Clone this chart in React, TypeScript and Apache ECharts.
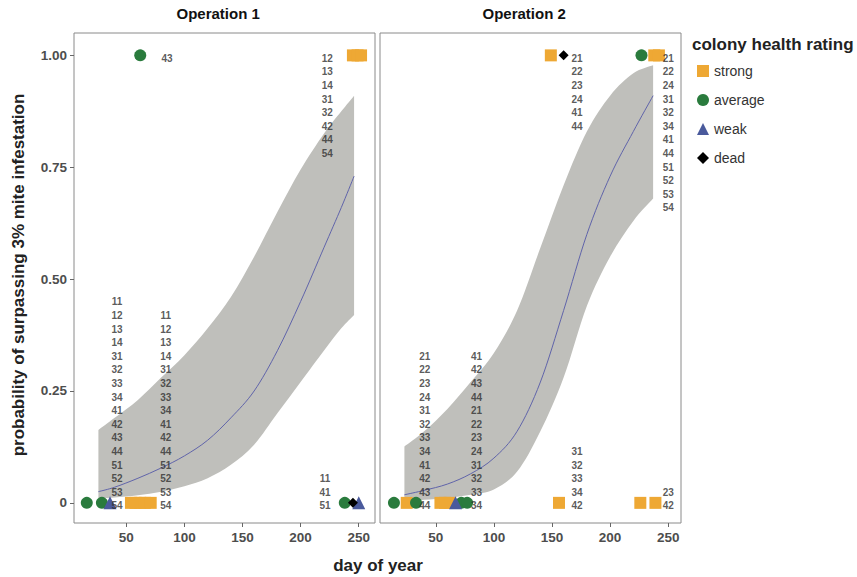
import React, { useEffect, useRef } from "react";
import * as echarts from "echarts";

const PANELS = ["Operation 1", "Operation 2"];
const X_TICKS = [50, 100, 150, 200, 250];
const Y_TICKS = [0, 0.25, 0.5, 0.75, 1];
const Y_TICK_LABELS = ["0", "0.25", "0.50", "0.75", "1.00"];
const RATINGS = ["strong", "average", "weak", "dead"];

// fitted curve + confidence band, Operation 1
const op1Days = [26, 40, 60, 80, 100, 120, 140, 160, 180, 200, 220, 235, 246];
const op1Fit = [0.025, 0.035, 0.055, 0.078, 0.105, 0.14, 0.19, 0.25, 0.34, 0.45, 0.57, 0.66, 0.73];
const op1Upper = [0.163, 0.19, 0.23, 0.28, 0.33, 0.39, 0.46, 0.55, 0.65, 0.745, 0.825, 0.875, 0.91];
const op1Lower = [0.01, 0.012, 0.017, 0.025, 0.037, 0.055, 0.085, 0.13, 0.2, 0.27, 0.34, 0.39, 0.42];

// fitted curve + confidence band, Operation 2
const op2Days = [23, 40, 60, 80, 100, 120, 140, 160, 180, 200, 220, 237];
const op2Fit = [0.018, 0.028, 0.042, 0.065, 0.1, 0.16, 0.27, 0.43, 0.6, 0.73, 0.83, 0.91];
const op2Upper = [0.126, 0.16, 0.21, 0.27, 0.335, 0.43, 0.57, 0.71, 0.83, 0.91, 0.96, 0.978];
const op2Lower = [0.004, 0.007, 0.011, 0.018, 0.03, 0.07, 0.16, 0.28, 0.44, 0.55, 0.63, 0.68];

// observations [day, outcome]
const op1Strong = [[54, 0], [58, 0], [62, 0], [66, 0], [71, 0], [245, 1], [249, 1], [252, 1]];
const op1Average = [[16, 0], [29, 0], [238, 0], [62, 1]];
const op1Weak = [[36, 0], [250, 0]];
const op1Dead = [[245, 0]];

const op2Strong = [[25, 0], [54, 0], [58, 0], [62, 0], [156, 0], [226, 0], [239, 0], [149, 1], [238, 1], [242, 1]];
const op2Average = [[14, 0], [33, 0], [72, 0], [77, 0], [227, 1]];
const op2Weak = [[67, 0]];
const op2Dead = [[160, 1]];

// colony id labels: [label day, outcome, ids listed top to bottom]
const op1Labels: [number, number, string[]][] = [
  [42, 0, ["11", "12", "13", "14", "31", "32", "33", "34", "41", "42", "43", "44", "51", "52", "53", "54"]],
  [84, 0, ["11", "12", "13", "14", "31", "32", "33", "34", "41", "42", "44", "51", "52", "53", "54"]],
  [221, 0, ["11", "41", "51"]],
  [85, 1, ["43"]],
  [223, 1, ["12", "13", "14", "31", "32", "42", "44", "54"]],
];
const op2Labels: [number, number, string[]][] = [
  [40.5, 0, ["21", "22", "23", "24", "31", "32", "33", "34", "41", "42", "43", "44"]],
  [85, 0, ["41", "42", "43", "44", "21", "22", "23", "24", "31", "32", "33", "34"]],
  [171.5, 0, ["31", "32", "33", "34", "42"]],
  [250, 0, ["23", "42"]],
  [171.5, 1, ["21", "22", "23", "24", "41", "44"]],
  [250, 1, ["21", "22", "24", "31", "32", "34", "41", "44", "51", "52", "53", "54"]],
];

const COLORS: Record<string, string> = {
  strong: "#eea834",
  average: "#2a7b3d",
  weak: "#4a5a9c",
  dead: "#000000",
};
const SYMBOLS: Record<string, string> = {
  strong: "rect",
  average: "circle",
  weak: "triangle",
  dead: "diamond",
};
const SIZES: Record<string, number> = { strong: 12, average: 12, weak: 13, dead: 10 };

const FONT = "'Liberation Sans', Arial, sans-serif";

// smooth path (Catmull-Rom as cubic Beziers) through screen points
function curveThrough(pts: number[][], moveFirst: boolean): string {
  let d = (moveFirst ? "M" : "L") + pts[0][0].toFixed(2) + " " + pts[0][1].toFixed(2);
  for (let i = 0; i < pts.length - 1; i++) {
    const p0 = pts[Math.max(0, i - 1)];
    const p1 = pts[i];
    const p2 = pts[i + 1];
    const p3 = pts[Math.min(pts.length - 1, i + 2)];
    const c1x = p1[0] + (p2[0] - p0[0]) / 6;
    const c1y = p1[1] + (p2[1] - p0[1]) / 6;
    const c2x = p2[0] - (p3[0] - p1[0]) / 6;
    const c2y = p2[1] - (p3[1] - p1[1]) / 6;
    d += ` C${c1x.toFixed(2)} ${c1y.toFixed(2)} ${c2x.toFixed(2)} ${c2y.toFixed(2)} ${p2[0].toFixed(2)} ${p2[1].toFixed(2)}`;
  }
  return d;
}

export default function App() {
  const ref = useRef<HTMLDivElement>(null);
  useEffect(() => {
    if (!ref.current) return;
    const chart = echarts.init(ref.current, null, { renderer: "svg" });

    const panels = [
      { days: op1Days, fit: op1Fit, up: op1Upper, lo: op1Lower, pts: { strong: op1Strong, average: op1Average, weak: op1Weak, dead: op1Dead }, labels: op1Labels, xMin: 5, xMax: 264 },
      { days: op2Days, fit: op2Fit, up: op2Upper, lo: op2Lower, pts: { strong: op2Strong, average: op2Average, weak: op2Weak, dead: op2Dead }, labels: op2Labels, xMin: 2, xMax: 261 },
    ];
    const grids = [
      { left: 74, top: 33, width: 301, height: 490 },
      { left: 380, top: 33, width: 301, height: 490 },
    ];
    const LINE_H = 13.6;

    const series: any[] = [];
    panels.forEach((p, pi) => {
      series.push({
        type: "custom", xAxisIndex: pi, yAxisIndex: pi, silent: true, clip: true, z: 1,
        data: p.days.map((d, i) => [d, p.lo[i], p.up[i], p.fit[i]]),
        renderItem: (params: any, api: any) => {
          if (params.dataIndex !== 0) return null;
          const upPts: number[][] = p.days.map((d, i) => api.coord([d, p.up[i]]));
          const loPts: number[][] = p.days.map((d, i) => api.coord([d, p.lo[i]])).reverse();
          const fitPts: number[][] = p.days.map((d, i) => api.coord([d, p.fit[i]]));
          return {
            type: "group",
            children: [
              {
                type: "path",
                shape: { pathData: curveThrough(upPts, true) + " " + curveThrough(loPts, false) + " Z" },
                style: { fill: "#bfbfbb", stroke: "none" },
              },
              {
                type: "path",
                shape: { pathData: curveThrough(fitPts, true) },
                style: { fill: "none", stroke: "#6064aa", lineWidth: 1 },
              },
            ],
          };
        },
      });
      RATINGS.forEach((r) => {
        series.push({
          name: r, type: "scatter", xAxisIndex: pi, yAxisIndex: pi,
          symbol: SYMBOLS[r], symbolSize: SIZES[r],
          itemStyle: { color: COLORS[r], opacity: 1 },
          data: (p.pts as any)[r], z: 3,
        });
      });
      const labelData: any[] = [];
      p.labels.forEach(([day, outcome, ids]) => {
        const n = ids.length;
        ids.forEach((id, i) => {
          const dy = outcome === 0 ? 3 + (i - (n - 1)) * LINE_H : 3 + i * LINE_H;
          labelData.push({
            value: [day, outcome],
            name: id,
            label: { offset: [0, dy] },
          });
        });
      });
      series.push({
        type: "scatter", xAxisIndex: pi, yAxisIndex: pi, silent: true,
        symbolSize: 1, itemStyle: { color: "rgba(0,0,0,0)" },
        data: labelData, z: 4,
        label: {
          show: true, position: "inside", formatter: (o: any) => o.name,
          fontFamily: FONT, fontSize: 10, fontWeight: "bold", color: "#303030",
        },
      });
    });

    const option: any = {
      animation: false,
      backgroundColor: "#ffffff",
      textStyle: { fontFamily: FONT },
      grid: grids.map((g) => ({ ...g, show: true, borderColor: "#8a8a8a", borderWidth: 1, backgroundColor: "#ffffff", containLabel: false })),
      xAxis: panels.map((p, pi) => ({
        type: "value", gridIndex: pi, min: p.xMin, max: p.xMax,
        axisLine: { show: false, onZero: false },
        splitLine: { show: false },
        axisTick: { show: true, customValues: X_TICKS, length: 4, lineStyle: { color: "#666" } },
        axisLabel: { customValues: X_TICKS, fontFamily: FONT, fontSize: 13.5, fontWeight: "bold", color: "#4d4d4d", margin: 7 },
      })),
      yAxis: panels.map((p, pi) => ({
        type: "value", gridIndex: pi, min: -0.045, max: 1.05,
        axisLine: { show: false, onZero: false },
        splitLine: { show: false },
        axisTick: { show: pi === 0, customValues: Y_TICKS, length: 4, lineStyle: { color: "#666" } },
        axisLabel: {
          show: pi === 0, customValues: Y_TICKS,
          formatter: (v: number) => {
            const k = Y_TICKS.findIndex((t) => Math.abs(t - v) < 1e-6);
            return k >= 0 ? Y_TICK_LABELS[k] : "";
          },
          fontFamily: FONT, fontSize: 13.5, fontWeight: "bold", color: "#4d4d4d", margin: 7,
        },
      })),
      legend: {
        orient: "vertical", left: 692, top: 59, itemWidth: 12, itemHeight: 12, itemGap: 15,
        data: RATINGS.map((r) => ({ name: r, icon: SYMBOLS[r] })),
        textStyle: { fontFamily: FONT, fontSize: 14, color: "#333" },
      },
      graphic: [
        ...PANELS.map((t, i) => ({
          type: "text", left: grids[i].left + grids[i].width / 2 - 48, top: 6,
          style: { text: t, font: `bold 15px ${FONT}`, fill: "#111" },
        })),
        {
          type: "text", x: 378, y: 565,
          style: { text: "day of year", font: `bold 17px ${FONT}`, fill: "#222", align: "center", verticalAlign: "middle" },
        },
        {
          type: "text", x: 18, y: 275, rotation: Math.PI / 2,
          style: { text: "probability of surpassing 3% mite infestation", font: `bold 17px ${FONT}`, fill: "#222", align: "center", verticalAlign: "middle" },
        },
        {
          type: "text", left: 692, top: 36,
          style: { text: "colony health rating", font: `bold 17px ${FONT}`, fill: "#222" },
        },
      ],
      series,
    };
    chart.setOption(option);
    return () => chart.dispose();
  }, []);
  return <div ref={ref} style={{ position: "fixed", left: 0, top: 0, width: 857, height: 577 }} />;
}
